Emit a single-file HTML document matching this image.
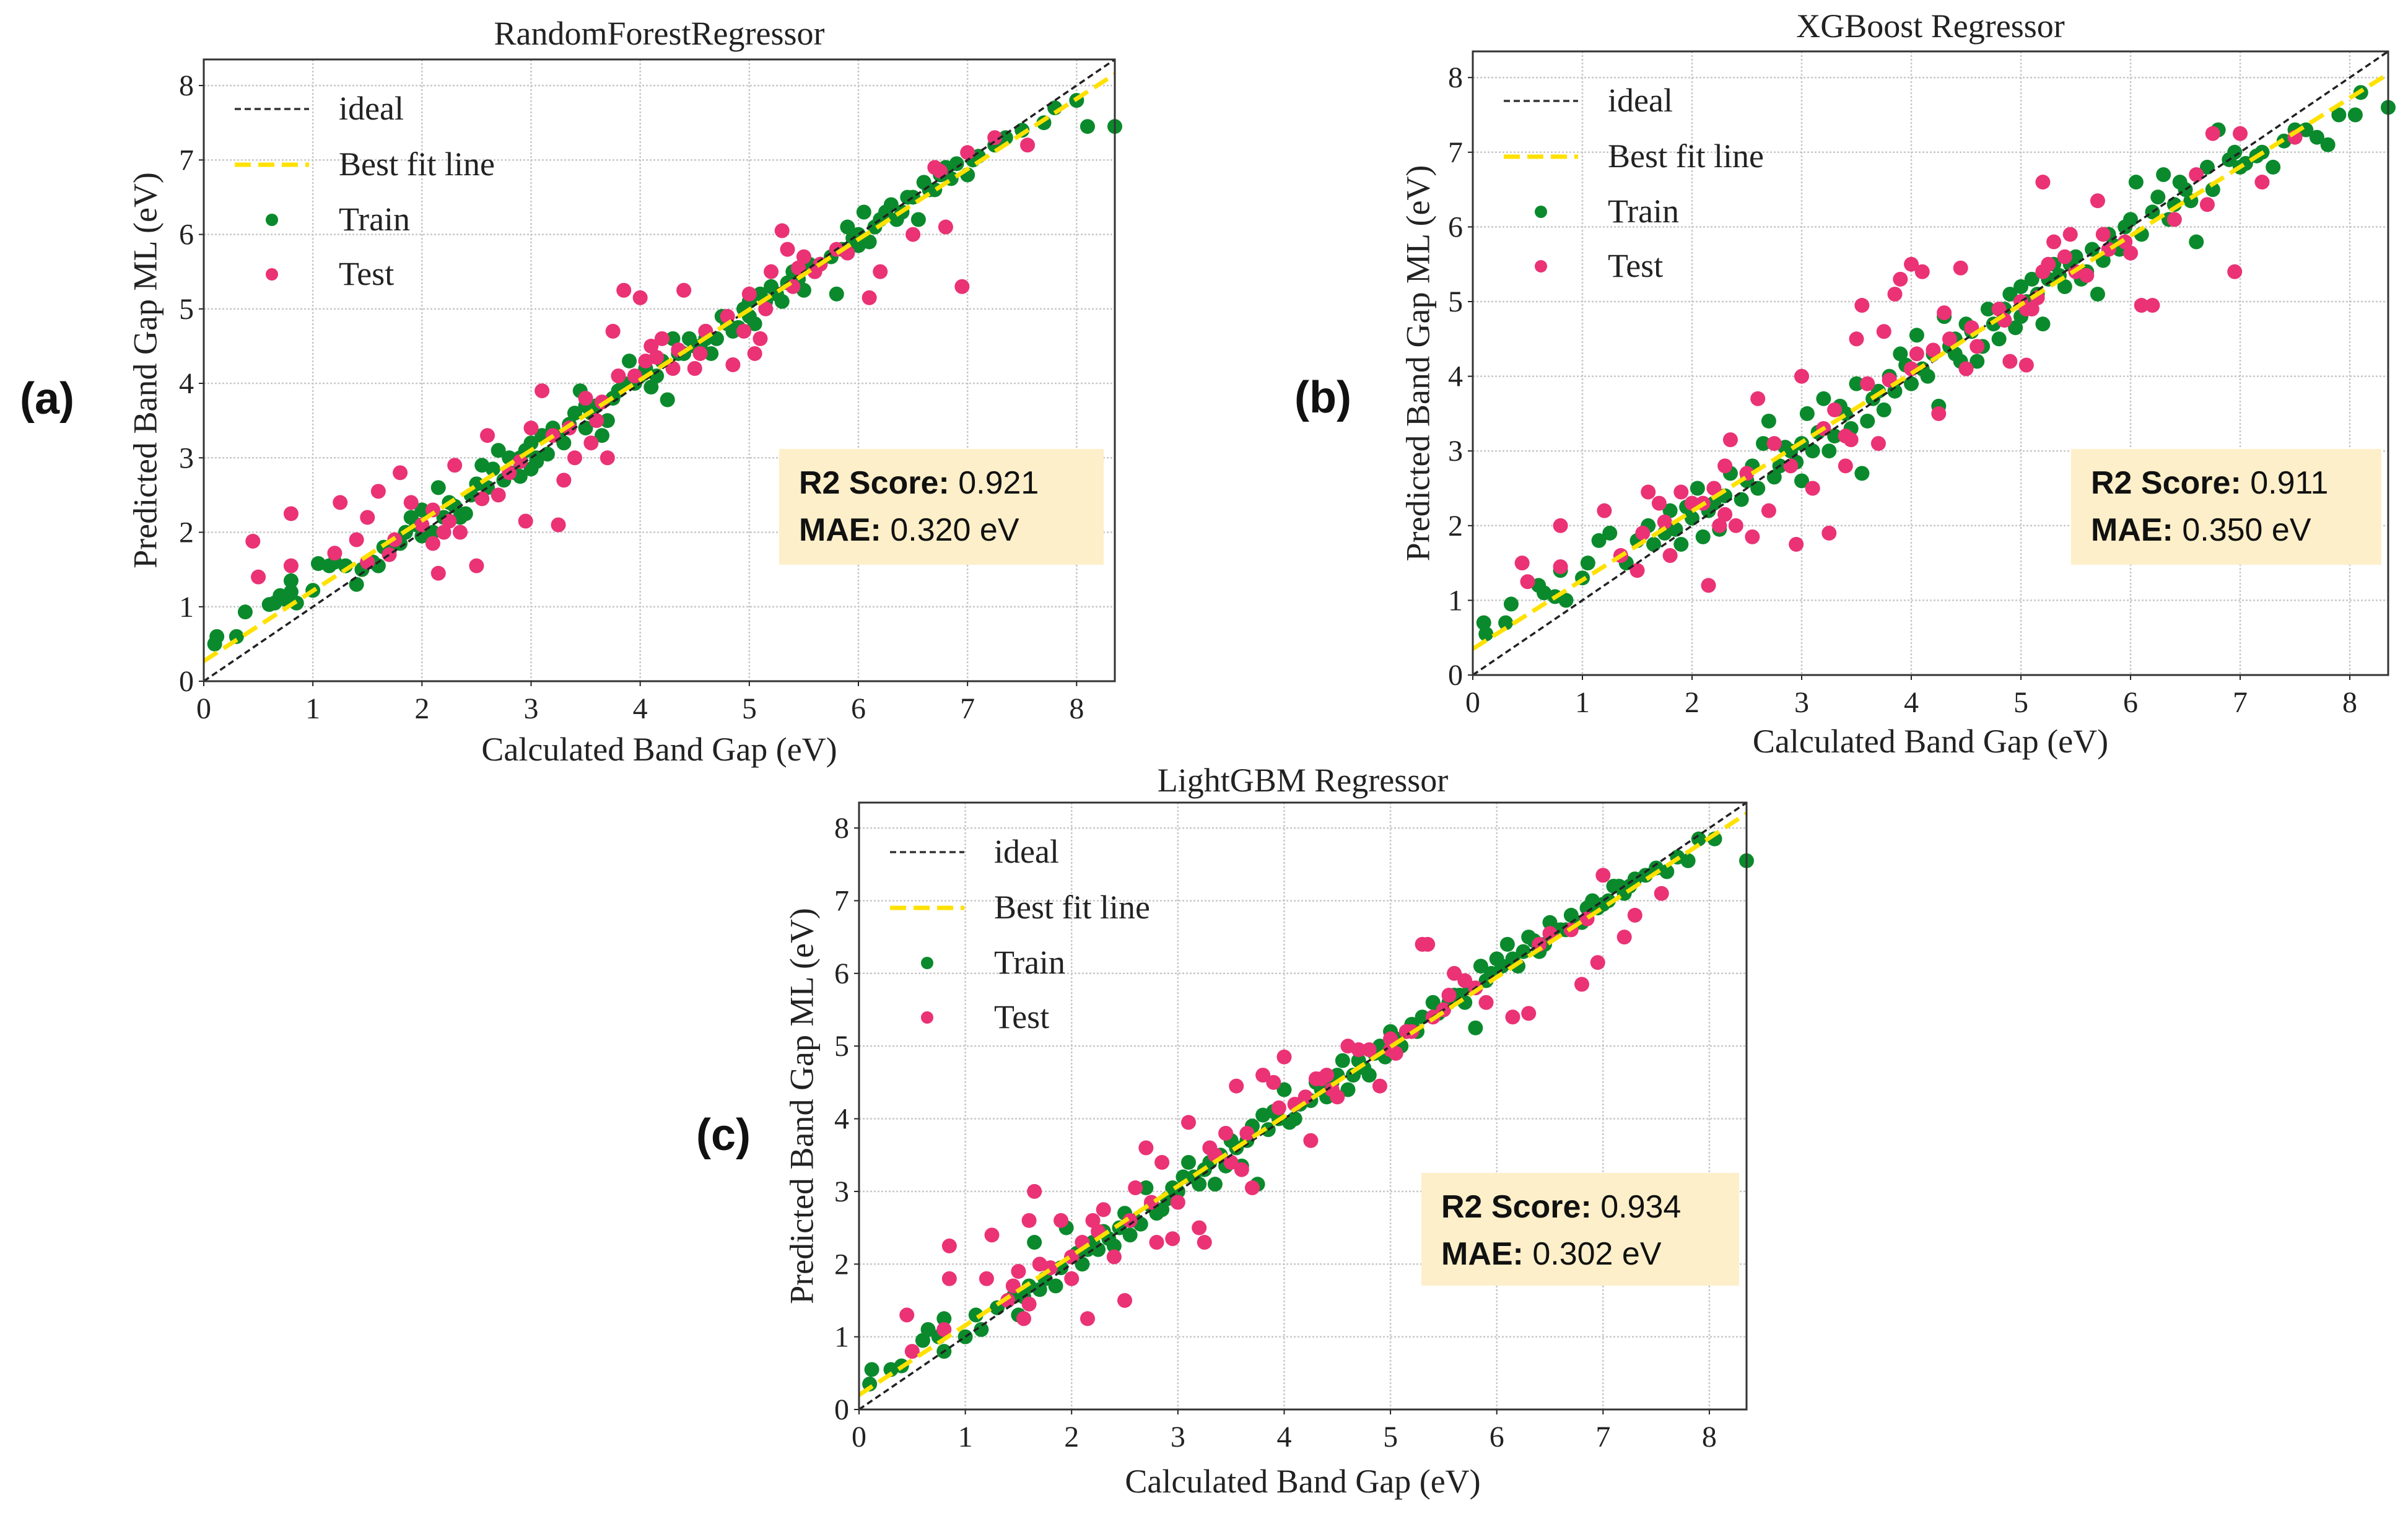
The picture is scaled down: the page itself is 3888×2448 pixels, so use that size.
<!DOCTYPE html>
<html><head><meta charset="utf-8"><style>
html,body{margin:0;padding:0;background:#fff;}
svg{display:block;}
</style></head><body>
<svg id="fig" width="3888" height="2448" viewBox="0 0 3888 2448" xmlns="http://www.w3.org/2000/svg" font-family="Liberation Serif, serif"></svg>
<script>
const NS="http://www.w3.org/2000/svg";
const xTicks=[0,1,2,3,4,5,6,7,8];
const yTicks=[0,1,2,3,4,5,6,7,8];
const axisMax=8.35;

const trainA=[0.1,0.5,0.12,0.6,0.3,0.6,0.38,0.93,0.6,1.03,0.65,1.05,0.7,1.15,0.75,1.1,0.8,1.35,0.8,1.2,0.85,1.05,1.0,1.22,1.05,1.58,1.15,1.55,1.2,1.6,1.3,1.55,1.4,1.3,1.45,1.5,1.55,1.6,1.6,1.55,1.7,1.75,1.8,1.85,1.9,2.2,2.0,1.95,2.0,2.3,2.1,2.0,2.15,2.6,2.2,2.2,2.3,2.35,2.4,2.25,2.45,2.5,2.55,2.9,2.6,2.6,2.7,3.1,2.75,2.7,2.8,3.0,2.85,2.8,2.9,3.0,3.0,2.85,3.0,3.2,3.1,3.3,3.15,3.05,3.2,3.4,3.3,3.2,3.4,3.6,3.45,3.9,3.5,3.4,3.6,3.7,3.65,3.3,3.7,3.5,3.8,3.9,3.9,4.3,3.95,4.0,4.0,4.1,4.1,3.95,4.2,4.3,4.25,3.78,4.3,4.6,4.4,4.4,4.5,4.5,4.6,4.7,4.65,4.4,4.7,4.6,4.8,4.8,4.9,4.75,5.0,5.1,5.05,4.8,5.1,5.2,5.2,5.3,5.3,5.1,5.4,5.5,5.5,5.25,5.55,5.6,5.6,5.5,5.8,5.2,5.85,5.8,5.9,6.1,6.0,6.0,6.05,6.3,6.1,5.9,6.2,6.2,6.3,6.4,6.4,6.3,6.5,6.5,6.55,6.2,6.6,6.7,6.7,6.6,6.8,6.9,6.9,6.95,7.0,6.8,7.1,7.05,7.25,7.2,7.35,7.3,7.5,7.4,7.7,7.5,7.8,7.7,8.0,7.8,8.1,7.45,8.35,7.45,
 1.65,1.8,1.85,2.0,1.95,2.1,2.25,2.4,2.35,2.2,2.5,2.65,2.65,2.85,2.95,3.1,3.05,2.95,3.25,3.3,3.35,3.45,3.55,3.6,3.75,3.8,3.85,4.0,4.05,4.2,4.15,4.1,4.35,4.4,4.45,4.6,4.55,4.5,4.75,4.9,4.85,4.7,4.95,5.0,5.15,5.1,5.25,5.2,5.35,5.35,5.45,5.4,5.65,5.6,5.75,5.7,5.95,5.95,6.15,6.1,6.25,6.3,6.35,6.2,6.45,6.5,6.65,6.6,6.75,6.8,6.85,6.75,7.05,7.0,3.05,3.0,3.5,3.7,4.6,4.6,5.0,4.9,2.9,2.75,6.0,5.85];
const testA=[0.45,1.88,0.5,1.4,0.8,1.55,0.8,2.25,1.2,1.72,1.25,2.4,1.4,1.9,1.5,2.2,1.6,2.55,1.8,2.8,1.9,2.4,2.1,1.85,2.15,1.45,2.2,2.0,2.3,2.9,2.35,2.0,2.5,1.55,2.6,3.3,2.7,2.5,2.8,2.8,2.95,2.15,3.0,3.4,3.1,3.9,3.25,2.1,3.3,2.7,3.4,3.0,3.5,3.8,3.55,3.2,3.7,3.0,3.75,4.7,3.85,5.25,4.0,5.15,3.95,4.1,4.1,4.5,4.2,4.6,4.3,4.2,4.4,5.25,4.5,4.2,4.6,4.7,4.85,4.25,5.0,5.2,5.05,4.4,5.1,4.6,5.2,5.5,5.3,6.05,5.35,5.8,5.4,5.3,5.5,5.7,5.6,5.5,5.8,5.8,6.1,5.15,6.2,5.5,6.5,6.0,6.7,6.9,6.8,6.1,6.95,5.3,7.0,7.1,7.25,7.3,7.55,7.2,4.05,4.3,3.2,3.3,2.0,2.1,1.7,1.7,3.6,3.5,
 1.5,1.6,1.75,1.9,2.1,2.3,2.25,2.15,2.55,2.45,2.9,2.95,3.35,3.4,3.65,3.75,3.8,4.1,4.15,4.35,4.35,4.45,4.55,4.4,4.8,4.9,4.95,4.7,5.15,5.0,5.45,5.55,5.65,5.6,5.9,5.75,6.75,6.85];
const trainB=[0.1,0.7,0.12,0.55,0.3,0.7,0.35,0.95,0.6,1.2,0.65,1.1,0.75,1.05,0.8,1.4,0.85,1.0,1.0,1.3,1.05,1.5,1.15,1.8,1.25,1.9,1.4,1.5,1.5,1.8,1.6,2.0,1.75,1.9,1.8,2.2,1.9,1.75,2.0,2.1,2.05,2.5,2.15,2.2,2.25,1.95,2.35,2.7,2.5,2.6,2.6,2.5,2.65,3.1,2.7,3.4,2.8,2.8,2.9,3.0,3.0,2.6,3.05,3.5,3.1,3.0,3.2,3.7,3.3,3.2,3.4,3.5,3.5,3.9,3.55,2.7,3.6,3.4,3.7,3.8,3.8,4.0,3.9,4.3,4.0,3.9,4.05,4.55,4.1,4.1,4.2,4.3,4.25,3.6,4.3,4.8,4.4,4.5,4.5,4.7,4.6,4.2,4.7,4.9,4.8,4.5,4.9,5.1,5.0,4.8,5.1,5.3,5.2,4.7,5.3,5.5,5.4,5.2,5.5,5.6,5.6,5.4,5.7,5.1,5.8,5.9,5.9,5.7,6.0,6.1,6.05,6.6,6.2,6.2,6.3,6.7,6.4,6.3,6.5,6.5,6.6,5.8,6.7,6.8,6.8,7.3,6.9,6.9,7.0,6.8,7.2,7.0,7.3,6.8,7.5,7.3,7.7,7.2,7.8,7.1,7.9,7.5,8.05,7.5,8.1,7.8,8.35,7.6,2.2,2.3,3.0,3.1,4.4,4.3,5.0,5.2,
 1.65,1.75,1.85,1.95,1.95,2.25,2.1,1.85,2.3,2.4,2.45,2.35,2.55,2.8,2.75,2.65,2.85,3.05,2.95,2.85,3.15,3.25,3.25,3.0,3.35,3.6,3.45,3.3,3.65,3.7,3.75,3.55,3.85,3.8,3.95,4.15,4.15,4.0,4.35,4.4,4.45,4.2,4.55,4.6,4.65,4.4,4.75,4.7,4.85,4.9,4.95,4.65,5.05,5.0,5.15,5.1,5.25,5.3,5.35,5.35,5.45,5.5,5.55,5.3,5.65,5.7,5.75,5.55,5.85,5.75,5.95,6.0,6.1,5.9,6.25,6.4,6.35,6.1,6.45,6.6,6.55,6.35,6.75,6.5,6.95,7.0,7.05,6.85,7.15,6.95,7.4,7.15,7.6,7.3];
const testB=[0.45,1.5,0.5,1.25,0.8,1.45,0.8,2.0,1.2,2.2,1.35,1.6,1.5,1.4,1.6,2.45,1.7,2.3,1.8,1.6,1.9,2.45,2.0,2.3,2.15,1.2,2.25,2.0,2.3,2.8,2.35,3.15,2.5,2.7,2.55,1.85,2.6,3.7,2.7,2.2,2.75,3.1,2.95,1.75,3.0,4.0,3.1,2.5,3.2,3.3,3.25,1.9,3.4,2.8,3.5,4.5,3.55,4.95,3.7,3.1,3.75,4.6,3.85,5.1,3.9,5.3,4.0,5.5,4.05,4.3,4.1,5.4,4.25,3.5,4.3,4.85,4.45,5.45,4.5,4.1,4.6,4.4,4.9,4.2,5.05,4.15,5.1,4.9,5.2,5.4,5.3,5.8,5.4,5.6,5.45,5.9,5.6,5.35,5.7,6.35,5.75,5.9,6.1,4.95,6.2,4.95,6.4,6.1,6.6,6.7,6.7,6.3,6.75,7.25,6.95,5.4,7.0,7.25,7.2,6.6,7.5,7.2,5.2,6.6,3.4,3.2,4.0,4.1,4.8,4.9,5.0,5.0,2.1,2.3,
 1.55,1.9,1.75,2.05,2.2,2.5,2.3,2.15,2.4,2.0,2.9,2.8,3.3,3.55,3.45,3.15,3.6,3.9,3.8,3.95,4.2,4.35,4.35,4.5,4.55,4.65,4.85,4.75,5.05,4.9,5.15,5.05,5.25,5.5,5.5,5.4,5.8,5.7,5.95,5.8,6.0,5.65];
const trainC=[0.1,0.35,0.12,0.55,0.3,0.55,0.4,0.6,0.6,0.95,0.65,1.1,0.75,1.0,0.8,1.25,0.8,0.8,1.0,1.0,1.1,1.3,1.15,1.1,1.3,1.4,1.4,1.5,1.5,1.3,1.6,1.7,1.65,2.3,1.75,1.8,1.85,1.7,1.95,2.5,2.0,2.1,2.1,2.0,2.2,2.3,2.3,2.45,2.4,2.25,2.5,2.7,2.55,2.4,2.6,2.6,2.7,3.05,2.8,2.7,2.9,2.9,3.0,3.0,3.05,3.2,3.1,3.4,3.2,3.1,3.3,3.4,3.35,3.1,3.4,3.5,3.5,3.7,3.6,3.35,3.7,3.9,3.75,3.1,3.8,4.05,3.9,4.1,4.0,4.4,4.1,4.0,4.2,4.3,4.3,4.5,4.4,4.3,4.5,4.6,4.6,4.4,4.7,4.8,4.8,4.6,4.9,5.0,5.0,5.2,5.1,5.0,5.2,5.3,5.3,5.4,5.4,5.6,5.5,5.5,5.6,5.7,5.7,5.6,5.8,5.25,5.85,6.1,5.9,5.9,6.0,6.2,6.1,6.4,6.2,6.1,6.3,6.5,6.4,6.3,6.5,6.7,6.6,6.6,6.7,6.8,6.8,6.7,6.9,7.0,7.0,6.95,7.1,7.2,7.2,7.1,7.3,7.3,7.5,7.45,7.6,7.4,7.7,7.6,7.8,7.55,7.9,7.85,8.05,7.85,8.35,7.55,1.45,1.55,2.25,2.2,4.05,3.95,4.55,4.8,
 1.55,1.55,1.7,1.65,1.9,1.95,2.05,2.15,2.15,2.2,2.35,2.35,2.45,2.5,2.65,2.55,2.75,2.8,2.85,2.75,2.95,3.05,3.15,3.2,3.25,3.3,3.45,3.35,3.55,3.6,3.65,3.7,3.85,3.85,3.95,4.0,4.15,4.2,4.25,4.25,4.35,4.4,4.45,4.5,4.65,4.6,4.75,4.7,4.85,4.9,4.95,4.85,5.05,5.1,5.15,5.2,5.25,5.2,5.45,5.45,5.55,5.6,5.65,5.7,5.75,5.8,5.95,6.0,6.05,6.1,6.15,6.2,6.25,6.3,6.35,6.45,6.45,6.4,6.55,6.6,6.65,6.6,6.75,6.7,6.85,6.9,6.95,6.9,7.05,7.0,7.15,7.2,7.25,7.2,7.4,7.35];
const testC=[0.45,1.3,0.5,0.8,0.8,1.1,0.85,1.8,0.85,2.25,1.2,1.8,1.25,2.4,1.4,1.5,1.5,1.9,1.55,1.25,1.6,2.6,1.65,3.0,1.7,2.0,1.9,2.6,2.0,1.8,2.15,1.25,2.2,2.6,2.3,2.75,2.4,2.1,2.5,1.5,2.6,3.05,2.7,3.6,2.8,2.3,2.85,3.4,2.95,2.35,3.0,2.85,3.1,3.95,3.2,2.5,3.25,2.3,3.3,3.6,3.45,3.8,3.55,4.45,3.6,3.3,3.7,3.05,3.8,4.6,3.9,4.5,4.0,4.85,4.2,4.3,4.25,3.7,4.3,4.55,4.5,4.3,4.6,5.0,4.7,4.95,4.9,4.45,5.05,4.9,5.2,5.2,5.3,6.4,5.35,6.4,5.5,5.5,5.6,6.0,5.8,5.8,5.9,5.6,6.15,5.4,6.3,5.45,6.4,6.4,6.7,6.6,6.8,5.85,6.95,6.15,7.0,7.35,7.2,6.5,7.3,6.8,7.55,7.1,3.5,3.4,4.4,4.6,2.0,2.1,5.0,5.1,
 1.45,1.7,1.6,1.45,1.8,1.95,2.1,2.3,2.25,2.45,2.55,2.6,2.75,2.85,3.35,3.5,3.65,3.8,3.95,4.15,4.1,4.2,4.35,4.55,4.45,4.4,4.8,4.95,5.0,4.95,5.15,5.2,5.4,5.4,5.55,5.7,5.7,5.9,6.5,6.55,6.85,6.75];
const fitA=[0.944,0.27], fitB=[0.922,0.35], fitC=[0.958,0.2];
const titles=["RandomForestRegressor","XGBoost Regressor","LightGBM Regressor"];
const r2Labels=["0.921","0.911","0.934"];
const maeLabels=["0.320 eV","0.350 eV","0.302 eV"];
const tags=["(a)","(b)","(c)"];

const svg=document.getElementById('fig');
function mk(tag,attrs,parent){const e=document.createElementNS(NS,tag);for(const k in attrs)e.setAttribute(k,attrs[k]);(parent||svg).appendChild(e);return e;}

const panels=[
 {L:329,R:1800,T:96,B:1100,train:trainA,test:testA,fit:fitA,titleY:72,xlabY:1228,ylabX:240,tagX:32,tagY:668,box:[1258,725,524,187]},
 {L:2378,R:3856,T:83,B:1090,train:trainB,test:testB,fit:fitB,titleY:60,xlabY:1215,ylabX:2295,tagX:2090,tagY:666,box:[3344,725,501,187]},
 {L:1387,R:2820,T:1296,B:2276,train:trainC,test:testC,fit:fitC,titleY:1278,xlabY:2410,ylabX:1300,tagX:1124,tagY:1857,box:[2295,1894,513,182]}
];

panels.forEach((p,i)=>{
 const g=mk('g',{});
 
 
 const sx=v=>p.L+(p.R-p.L)*v/axisMax;
 const sy=v=>p.B-(p.B-p.T)*v/axisMax;
 const cx=(p.L+p.R)/2, cy=(p.T+p.B)/2;
 xTicks.forEach(t=>{const l=mk('line',{x1:sx(t),x2:sx(t),y1:p.T,y2:p.B,stroke:'#c8c8c8','stroke-width':2.5,'stroke-dasharray':'3,3'},g);
  
  const tl=mk('text',{x:sx(t),y:p.B+60,'font-size':48,'text-anchor':'middle',fill:'#222'},g);tl.textContent=t;
  
  mk('line',{x1:sx(t),x2:sx(t),y1:p.B,y2:p.B+8,stroke:'#222','stroke-width':2},g);});
 yTicks.forEach(t=>{const l=mk('line',{x1:p.L,x2:p.R,y1:sy(t),y2:sy(t),stroke:'#c8c8c8','stroke-width':2.5,'stroke-dasharray':'3,3'},g);
  
  const tl=mk('text',{x:p.L-16,y:sy(t)+16,'font-size':48,'text-anchor':'end',fill:'#222'},g);tl.textContent=t;
  
  mk('line',{x1:p.L-8,x2:p.L,y1:sy(t),y2:sy(t),stroke:'#222','stroke-width':2},g);});
 for(let k=0;k<p.train.length;k+=2){const c=mk('circle',{cx:sx(p.train[k]),cy:sy(p.train[k+1]),r:12,fill:'#0a8a2c'},g);
  }
 for(let k=0;k<p.test.length;k+=2){const c=mk('circle',{cx:sx(p.test[k]),cy:sy(p.test[k+1]),r:12,fill:'#ea3275'},g);
  }
 const il=mk('line',{x1:sx(0),y1:sy(0),x2:sx(axisMax),y2:sy(axisMax),stroke:'#222','stroke-width':3.5,'stroke-dasharray':'10,6'},g);
 
 const fl=mk('line',{x1:sx(0),y1:sy(p.fit[1]),x2:sx(axisMax),y2:sy(p.fit[0]*axisMax+p.fit[1]),stroke:'#ffe100','stroke-width':7,'stroke-dasharray':'26,12'},g);
 
 const fr=mk('rect',{x:p.L,y:p.T,width:p.R-p.L,height:p.B-p.T,fill:'none',stroke:'#333','stroke-width':3},g);
 
 const lg=mk('g',{},g);
 const rows=[p.T+80,p.T+170,p.T+259,p.T+347];
 mk('line',{x1:p.L+50,x2:p.L+170,y1:rows[0],y2:rows[0],stroke:'#333','stroke-width':3.5,'stroke-dasharray':'10,6'},lg);
 mk('line',{x1:p.L+50,x2:p.L+170,y1:rows[1],y2:rows[1],stroke:'#ffe100','stroke-width':7,'stroke-dasharray':'26,12'},lg);
 mk('circle',{cx:p.L+110,cy:rows[2],r:10,fill:'#0a8a2c'},lg);
 mk('circle',{cx:p.L+110,cy:rows[3],r:10,fill:'#ea3275'},lg);
 ['ideal','Best fit line','Train','Test'].forEach((s,j)=>{const t=mk('text',{x:p.L+218,y:rows[j]+17,'font-size':54,fill:'#222'},lg);t.textContent=s;
  });
 const ti=mk('text',{x:cx,y:p.titleY,'font-size':54,'text-anchor':'middle',fill:'#222'},g);ti.textContent=titles[i];
 
 const xl=mk('text',{x:cx,y:p.xlabY,'font-size':54,'text-anchor':'middle',fill:'#222'},g);xl.textContent='Calculated Band Gap (eV)';
 
 const yl=mk('text',{x:p.ylabX,y:cy,'font-size':54,'text-anchor':'middle',fill:'#222',transform:`rotate(-90 ${p.ylabX} ${cy})`,'dominant-baseline':'middle'},g);yl.textContent='Predicted Band Gap ML (eV)';
 
 const tg=mk('text',{x:p.tagX,y:p.tagY,'font-size':72,'font-weight':'bold','font-family':'Liberation Sans, sans-serif',fill:'#111'},g);tg.textContent=tags[i];
 
 const bx=mk('g',{},g);
 mk('rect',{x:p.box[0],y:p.box[1],width:p.box[2],height:p.box[3],fill:'#fdefc9'},bx);
 const t1=mk('text',{x:p.box[0]+32,y:p.box[1]+72,'font-size':52,'font-family':'Liberation Sans, sans-serif',fill:'#111'},bx);
 t1.innerHTML='<tspan font-weight="bold">R2 Score:</tspan> '+r2Labels[i];
 
 const t2=mk('text',{x:p.box[0]+32,y:p.box[1]+148,'font-size':52,'font-family':'Liberation Sans, sans-serif',fill:'#111'},bx);
 t2.innerHTML='<tspan font-weight="bold">MAE:</tspan> '+maeLabels[i];
 
});
</script>
</body></html>
